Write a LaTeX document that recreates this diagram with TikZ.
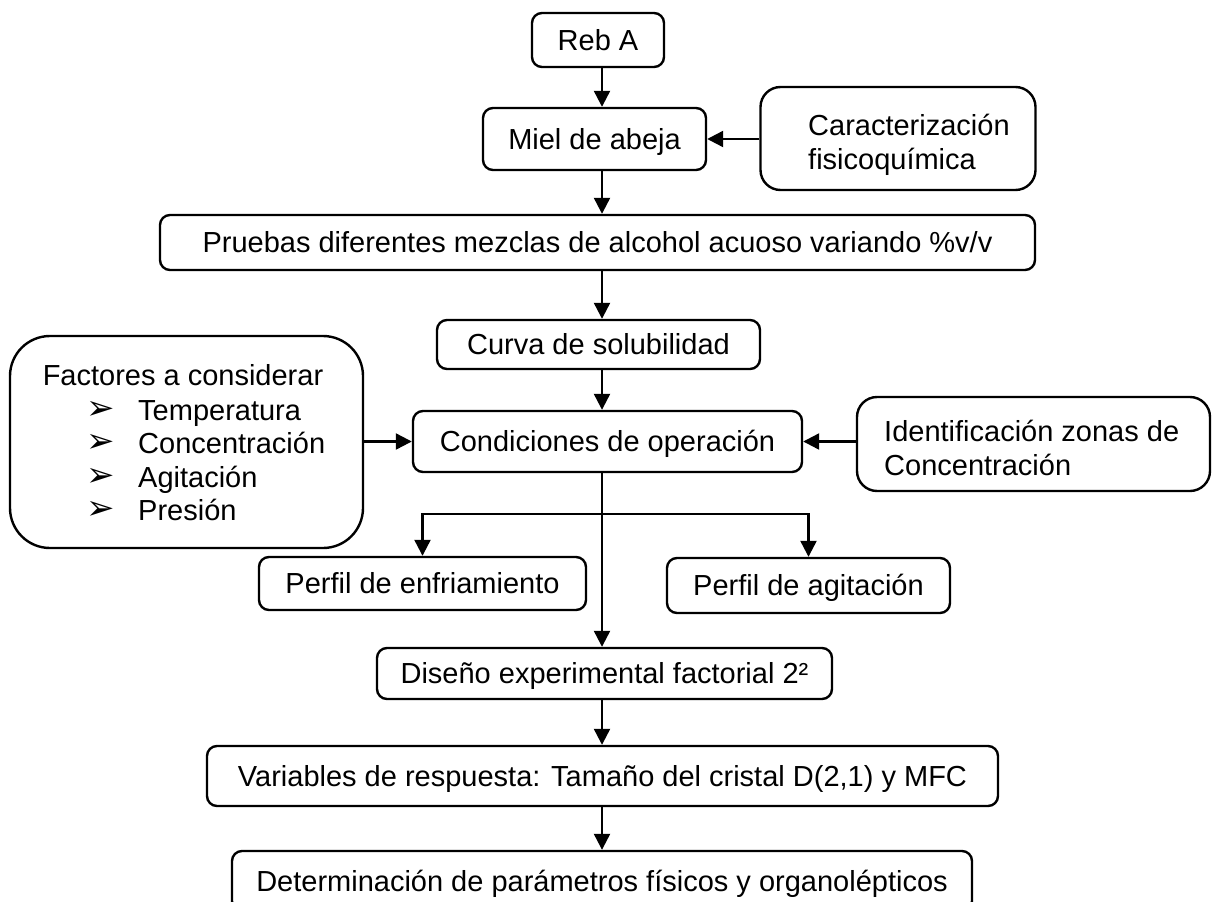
\documentclass[tikz,border=0pt]{standalone}
\usepackage{fontspec}
\setmainfont{Liberation Sans}
\newfontfamily\dejavu{DejaVu Sans}
\usetikzlibrary{arrows.meta}
\begin{document}
\begin{tikzpicture}[x=1pt,y=-1pt,
  every node/.style={font=\fontsize{29}{33.5}\selectfont},
  box/.style={draw, line width=2.4pt, rounded corners=10pt, inner sep=0pt,
    text height=20.8pt, text depth=0pt, align=center},
  bigbox/.style={box, rounded corners=20pt},
  txt/.style={inner sep=0pt, text height=20.8pt, text depth=0pt},
  txttwo/.style={inner sep=0pt, align=left, text height=54.3pt, text depth=0pt},
  bul/.style={inner sep=0pt, font=\dejavu\fontsize{34}{38}\selectfont},
  arr/.style={line width=2.3pt, -{Triangle[length=16pt,width=16pt]}},
]
\clip (0,0) rectangle (1213,902);
\fill[white] (0,0) rectangle (1213,902);
\coordinate (axis) at (602,0);

% main column
\node[box, minimum width=132pt, minimum height=54pt] (reb) at (598,40) {Reb A};
\node[box, minimum width=223pt, minimum height=62pt] (miel) at (594.5,139) {Miel de abeja};
\node[box, minimum width=875pt, minimum height=55pt] (pru) at (597.5,242.5) {Pruebas diferentes mezclas de alcohol acuoso variando \%v/v};
\node[box, minimum width=323pt, minimum height=49pt] (cur) at (598.5,344.5) {Curva de solubilidad};
\node[box, minimum width=389pt, minimum height=61pt] (con) at (607.5,441.5) {Condiciones de operación};
\node[box, minimum width=327pt, minimum height=53pt] (enf) at (422.5,583.5) {Perfil de enfriamiento};
\node[box, minimum width=283pt, minimum height=55pt] (agi) at (808.5,585.5) {Perfil de agitación};
\node[box, minimum width=455pt, minimum height=51pt] (dis) at (604.5,673.5) {Diseño experimental factorial 2²};
\node[box, minimum width=791pt, minimum height=60pt] (var) at (602.5,776) {Variables de respuesta: Tamaño del cristal D(2,1) y MFC};
\node[box, minimum width=740pt, minimum height=60pt] (det) at (602,881) {Determinación de parámetros físicos y organolépticos};

% side boxes
\node[bigbox, minimum width=275pt, minimum height=103pt] (car) at (898,138.5) {};
\node[txttwo, anchor=west] (cart) at (808,142) {Caracterización\\fisicoquímica};

\node[bigbox, minimum width=353pt, minimum height=94pt] (ide) at (1033.5,444) {};
\node[txttwo, anchor=west] (idet) at (884,448) {Identificación zonas de\\Concentración};

\node[box, rounded corners=40pt, minimum width=353pt, minimum height=212pt] (fac) at (186.5,442) {};
\node[txt] (fach) at (183,375) {Factores a considerar};
\node[bul] (b1) at (101,410) {➢};
\node[bul] (b2) at (101,443) {➢};
\node[bul] (b3) at (101,477) {➢};
\node[bul] (b4) at (101,510) {➢};
\node[txt, anchor=west] (f1) at (138,410) {Temperatura};
\node[txt, anchor=west] (f2) at (138,443) {Concentración};
\node[txt, anchor=west] (f3) at (138,477) {Agitación};
\node[txt, anchor=west] (f4) at (138,510) {Presión};

% connectors
\draw[arr] (reb.south -| axis) -- (miel.north -| axis);
\draw[arr] (miel.south -| axis) -- (pru.north -| axis);
\draw[arr] (pru.south -| axis) -- (cur.north -| axis);
\draw[arr] (cur.south -| axis) -- (con.north -| axis);
\draw[arr] (car.west |- miel.east) -- (miel.east);
\draw[arr] (fac.east |- con.west) -- (con.west);
\draw[arr] (ide.west |- con.east) -- (con.east);
\draw[arr] (con.south -| axis) -- (dis.north -| axis);
\coordinate (br) at (602,514);
\draw[arr] (br) -| (enf.north);
\draw[arr] (br) -| (agi.north);
\draw[arr] (dis.south -| axis) -- (var.north -| axis);
\draw[arr] (var.south -| axis) -- (det.north -| axis);
\end{tikzpicture}
\end{document}
